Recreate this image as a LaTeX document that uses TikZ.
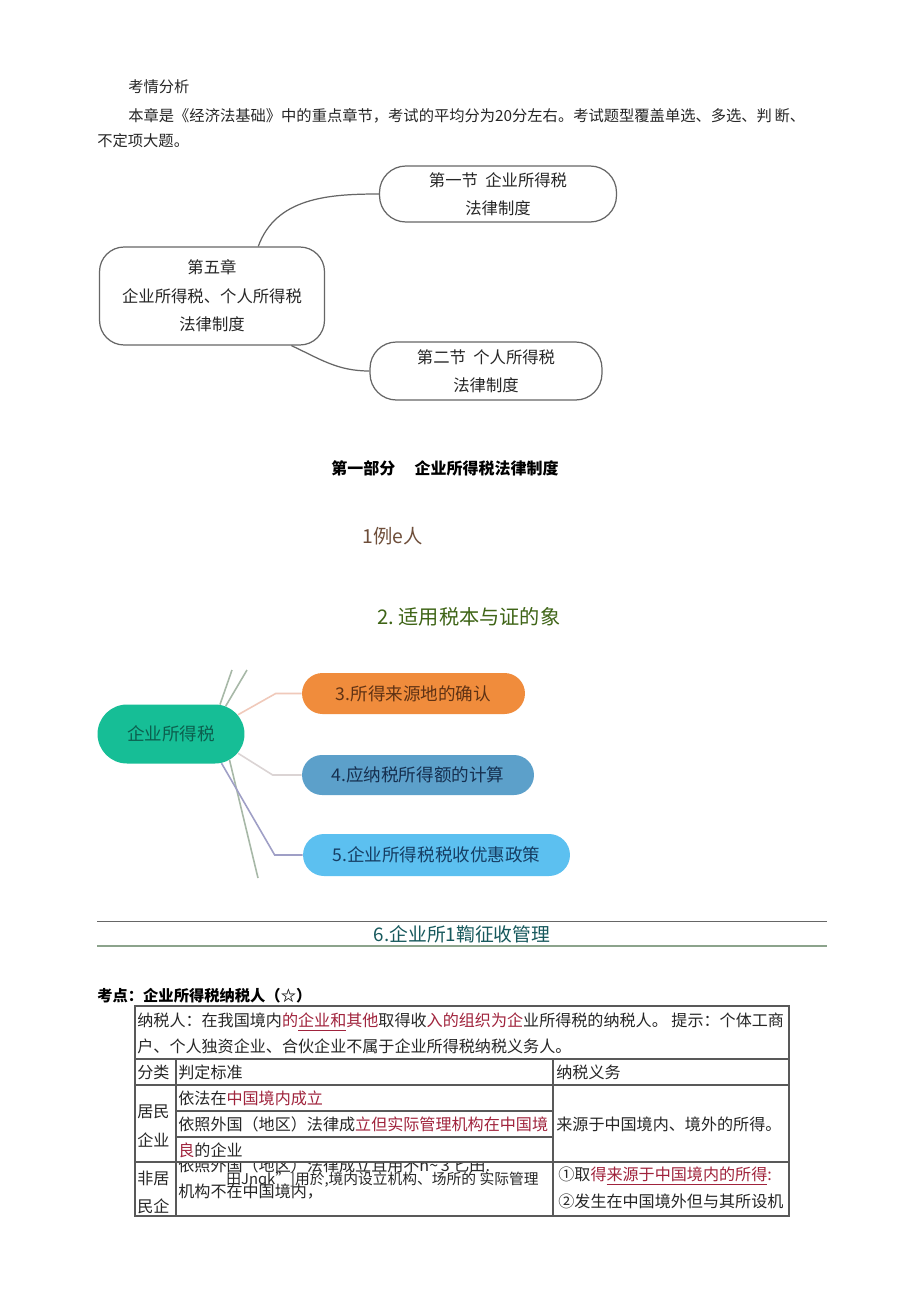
\documentclass[tikz,border=0pt]{standalone}
\usepackage{fontspec}
\setmainfont{Noto Sans CJK SC}
\usetikzlibrary{shapes.misc,positioning}
\definecolor{rd}{RGB}{160,35,60}
\definecolor{brn}{RGB}{110,78,58}
\definecolor{olv}{RGB}{62,100,22}
\definecolor{tl}{RGB}{22,88,92}
\definecolor{tealbg}{RGB}{22,190,150}
\definecolor{tealtx}{RGB}{12,95,78}
\definecolor{orbg}{RGB}{240,140,60}
\definecolor{ortx}{RGB}{95,50,20}
\definecolor{stbg}{RGB}{92,160,202}
\definecolor{sttx}{RGB}{22,48,80}
\definecolor{lbbg}{RGB}{92,192,240}
\definecolor{lbtx}{RGB}{22,62,100}

\begin{document}
\begin{tikzpicture}[x=0.02cm,y=-0.02cm,
  tx/.style={anchor=west,inner sep=0pt,font=\fontsize{8.7}{10}\selectfont,text=black!85},
  tb/.style={anchor=west,inner sep=0pt,font=\fontsize{9.15}{10}\selectfont,text=black!85},
  bx/.style={draw=black!60,line width=0.7pt,align=center,text=black!85},
  pl/.style={rounded rectangle,inner sep=0pt,font=\fontsize{10}{12}\selectfont},
  cv/.style={draw=black!60,line width=0.7pt},
  gr/.style={line width=0.9pt,draw=black!25!green!15!gray!60},
  tline/.style={draw=black!65,line width=0.6pt},
  ]
  \useasboundingbox[fill=white] (0,0) rectangle (920,1301);

  % intro
  \node[tx] (ti) at (128,87) {考情分析};
  \node[tx] (l1) at (128,116) {本章是《经济法基础》中的重点章节，考试的平均分为20分左右。考试题型覆盖单选、多选、判\,断、};
  \node[tx] (l2) at (97,141) {不定项大题。};

  % chapter map
  \node at (212,296) [bx,minimum width=4.5cm,minimum height=1.96cm,rounded corners=14pt,
    font=\fontsize{9.3}{16.3}\selectfont] (ch) {第五章\\企业所得税、个人所得税\\法律制度};
  \node at (498,194) [bx,minimum width=4.74cm,minimum height=1.12cm,rounded corners=15pt,
    font=\fontsize{9.3}{15.8}\selectfont] (s1) {第一节\ \ 企业所得税\\法律制度};
  \node at (486,371) [bx,minimum width=4.64cm,minimum height=1.16cm,rounded corners=15pt,
    font=\fontsize{9.3}{15.8}\selectfont] (s2) {第二节\ \ 个人所得税\\法律制度};
  \draw[cv] (ch.47) to[out=70,in=180] (s1.west);
  \draw[cv] (ch.-32) to[out=-25,in=180] (s2.west);

  \node at (445,468) [inner sep=0pt,font=\fontsize{9.1}{10}\selectfont\bfseries] (pt) {第一部分\hspace{1.2em}企业所得税法律制度};
  \node[anchor=west,inner sep=0pt,font=\fontsize{11}{12}\selectfont,text=brn] (h1) at (362,536) {1例e人};
  \node[anchor=west,inner sep=0pt,font=\fontsize{11.5}{12}\selectfont,text=olv] (h2) at (377,617) {2.\ 适用税本与证的象};

  % tax map
  \node at (171,734) [pl,fill=tealbg,text=tealtx,minimum width=2.94cm,minimum height=1.18cm] (ct) {企业所得税};
  \node at (413.5,693.5) [pl,fill=orbg,text=ortx,minimum width=4.46cm,minimum height=0.82cm] (o3) {3.所得来源地的确认};
  \node at (418,775) [pl,fill=stbg,text=sttx,minimum width=4.64cm,minimum height=0.8cm] (o4) {4.应纳税所得额的计算};
  \node at (436.5,855) [pl,fill=lbbg,text=lbtx,minimum width=5.34cm,minimum height=0.84cm] (o5) {5.企业所得税税收优惠政策};
  \coordinate (u1) at (232,670);
  \coordinate (u2) at (247,670);
  \coordinate (d1) at (258,878);
  \draw[gr] (ct.31) -- (u1);
  \draw[gr] (ct.27) -- (u2);
  \draw[gr] (ct.-24) -- (d1);
  \draw[line width=0.9pt,draw=brown!40!pink!60] (ct.16) -- ([xshift=-0.52cm]o3.west) -- (o3.west);
  \draw[line width=0.9pt,draw=gray!70!pink!40] (ct.-16) -- ([xshift=-0.58cm]o4.west) -- (o4.west);
  \draw[line width=0.9pt,draw=blue!25!gray!60] (ct.-30) -- ([xshift=-0.56cm]o5.west) -- (o5.west);

  % section 6
  \draw[line width=0.5pt,black!60] (97,921) -- (827,921);
  \draw[line width=1.2pt,green!20!black!45] (97,946) -- (827,946);
  \node at (462,934) [inner sep=0pt,font=\fontsize{10.7}{12}\selectfont,text=tl] (h6) {6.企业所1鞫征收管理};

  \node[anchor=west,inner sep=0pt,font=\fontsize{8.7}{10}\selectfont\bfseries] (kd) at (97,996) {考点：企业所得税纳税人（☆）};

  % table
  \draw[tline] (135,1006) rectangle (789,1216);
  \draw[tline] (135,1059) -- (789,1059);
  \draw[tline] (135,1085) -- (789,1085);
  \draw[tline] (135,1162) -- (789,1162);
  \draw[tline] (176,1111) -- (553,1111);
  \draw[tline] (176,1137) -- (553,1137);
  \draw[tline] (176,1059) -- (176,1216);
  \draw[tline] (553,1059) -- (553,1216);

  \node[tb] (r1a) at (137,1022) {纳税人：在我国境内\textcolor{rd}{的\underline{企业和}其他}取得收\textcolor{rd}{入的组织为企}业所得税的纳税人。\ 提示：个体工商};
  \node[tb] (r1b) at (137,1046) {户、个人独资企业、合伙企业不属于企业所得税纳税义务人。};
  \node[tb] (c1) at (137,1072) {分类};
  \node[tb] (c2) at (178,1072) {判定标准};
  \node[tb] (c3) at (556,1072) {纳税义务};
  \node[tb] (jm1) at (137,1112) {居民};
  \node[tb] (jm2) at (137,1140) {企业};
  \node[tb] (bz1) at (178,1098) {依法在\textcolor{rd}{中国境内成立}};
  \node[tb] (bz2) at (178,1124) {依照外国（地区）法律成\textcolor{rd}{立但实际管理机构在中国境}};
  \node[tb] (bz3) at (178,1150) {\textcolor{rd}{良}的企业};
  \node[tb] (yw1) at (556,1124) {来源于中国境内、境外的所得。};
  \node[tb] (fj1) at (137,1178) {非居};
  \node[tb] (fj2) at (137,1206) {民企};
  \begin{scope}
    \clip (176,1163) rectangle (553,1216);
    \node[tb] (bz4) at (178,1165) {依照外国（地区）法律成立且用不n\textasciitilde\,3 匕田.};
  \end{scope}
  \node[tb,font=\fontsize{8.4}{10}\selectfont] (bz5) at (226,1180) {田Jnqk"]用於,境内设立机构、场所的\ 实际管理};
  \node[tb] (bz6) at (178,1192) {机构不在中国境内，};
  \node[tb] (yw2) at (558,1176) {①取\textcolor{rd}{得\underline{来源于中国境内的所得}:}};
  \node[tb] (yw3) at (558,1201) {②发生在中国境外但与其所设机};
\end{tikzpicture}
\end{document}
